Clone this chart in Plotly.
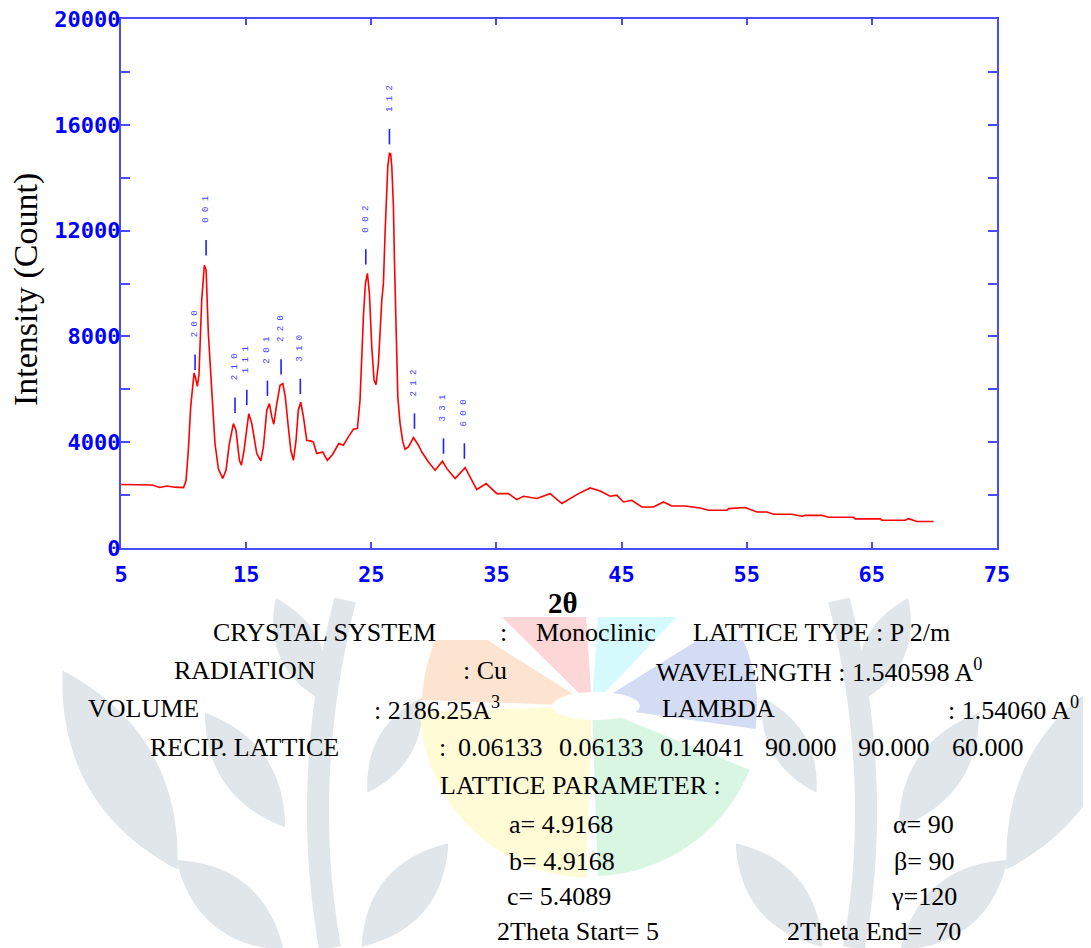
import numpy as np
import plotly.graph_objects as go

# ---------------- data ----------------
two_theta = [5.0, 6.5, 7.5, 8.1, 8.65, 9.3, 10.0, 10.2, 10.38, 10.57, 10.84, 10.95, 11.1, 11.23,
             11.45, 11.66, 11.8, 11.98, 12.25, 12.51, 12.78, 13.13, 13.39, 13.66, 13.98, 14.19,
             14.46, 14.62, 14.83, 15.21, 15.45, 15.85, 16.17, 16.38, 16.65, 16.86, 17.05, 17.21,
             17.45, 17.71, 17.93, 18.13, 18.37, 18.57, 18.78, 18.99, 19.17, 19.36, 19.58, 19.84,
             20.11, 20.37, 20.64, 21.12, 21.49, 21.92, 22.4, 22.77, 23.17, 23.57, 23.89, 24.1,
             24.37, 24.53, 24.69, 24.85, 25.04, 25.22, 25.38, 25.57, 25.84, 25.97, 26.1, 26.24,
             26.32, 26.45, 26.55, 26.64, 26.77, 26.85, 26.95, 27.12, 27.3, 27.52, 27.7, 27.97,
             28.37, 28.77, 29.04, 29.57, 30.1, 30.69, 31.04, 31.7, 32.5, 32.9, 33.43, 34.18,
             35.03, 35.96, 36.63, 37.16, 38.23, 39.29, 40.23, 41.56, 42.49, 43.29, 44.09, 44.62,
             45.15, 45.82, 46.62, 47.55, 48.35, 49.02, 50.08, 51.28, 51.95, 53.42, 53.55, 54.88,
             55.82, 56.62, 57.15, 58.62, 59.42, 59.68, 61.01, 61.54, 63.54, 63.67, 65.67, 65.8,
             67.67, 67.93, 68.6, 69.93]
intensity = [2400, 2400, 2380, 2290, 2345, 2300, 2285, 2560, 3695, 5335, 6620, 6450, 6115, 6530,
             9370, 10690, 10510, 8110, 5965, 3950, 3000, 2625, 2940, 3950, 4705, 4450,
             3315, 3130, 3695, 5080, 4705, 3570, 3290, 3820, 5210, 5460, 4955, 4680,
             5460, 6155, 6220, 5710, 4575, 3695, 3315, 4075, 5210, 5510, 4955, 4075,
             4050, 4010, 3570, 3630, 3315, 3545, 3950, 3885, 4200, 4490, 4515, 5585,
             8740, 10000, 10380, 9620, 7600, 6340, 6180, 6975, 9370, 10000, 11890, 13340,
             14435, 14917, 14900, 14410, 12900, 10880, 8740, 5710, 4705, 4010, 3735, 3820,
             4175, 3885, 3630, 3250, 2940, 3280, 3000, 2625, 3040, 2685, 2210, 2435,
             2055, 2055, 1830, 1955, 1870, 2055, 1680, 2055, 2270, 2155, 1955, 1995,
             1740, 1805, 1550, 1550, 1740, 1590, 1590, 1515, 1425, 1425, 1490, 1530,
             1360, 1360, 1275, 1275, 1200, 1235, 1235, 1160, 1160, 1100, 1100, 1050,
             1050, 1110, 1000, 1000]

hkl_labels = ["200", "001", "210", "111", "201", "220", "310", "002", "112", "212", "331", "600"]
hkl_pos = [10.92, 11.8, 14.11, 15.05, 16.7, 17.79, 19.33, 24.56, 26.45, 28.45, 30.77, 32.44]
hkl_tick_int = [7023, 11354, 5397, 5692, 6040, 6846, 6108, 11006, 15552, 4800, 3854, 3665]

x_ticks = [5, 15, 25, 35, 45, 55, 65, 75]
y_ticks = [0, 4000, 8000, 12000, 16000, 20000]

info_texts = [
    "CRYSTAL SYSTEM", ":", "Monoclinic", "LATTICE TYPE : P 2/m",
    "RADIATION", ": Cu", "WAVELENGTH : 1.540598 A<sup>0</sup>",
    "VOLUME", ": 2186.25A<sup>3</sup>", "LAMBDA", ": 1.54060 A<sup>0</sup>",
    "RECIP. LATTICE", ":", "0.06133", "0.06133", "0.14041", "90.000", "90.000", "60.000",
    "LATTICE PARAMETER :",
    "a= 4.9168", "α= 90",
    "b= 4.9168", "β= 90",
    "c= 5.4089", "γ=120",
    "2Theta Start= 5", "2Theta End=  70",
]
# placement in the reference picture's pixels (left x, centre y) of each text piece
info_px = [
    (211, 632), (498, 632), (534, 632), (691, 632),
    (172, 670), (461, 670), (654, 670),
    (86, 708), (372, 708), (660, 708), (946, 708),
    (148, 747), (437, 747), (456, 747), (557, 747), (658, 747), (763, 747), (856, 747), (950, 747),
    (438, 785),
    (507, 824), (891, 824),
    (507, 861), (892, 861),
    (505, 897), (889, 897),
    (495, 931), (785, 931),
]

# ---------------- layout helpers ----------------
OFF = 8                      # page margin of the browser body
W, H = 1091 - OFF, 948 - OFF
L_M, R_M, T_M, B_M = 121 - OFF, 94, 19 - OFF, 948 - 548
PW, PH = W - L_M - R_M, H - T_M - B_M


def px(xr):
    return (xr - OFF - L_M) / PW


def py(yr):
    return (H - B_M - (yr - OFF)) / PH


def path_from(points):
    return "M " + " L ".join(f"{px(a):.5f},{py(b):.5f}" for a, b in points) + " Z"


AX = "#4a4aff"
TICKFONT = dict(family="DejaVu Sans Mono", size=22, color="#0000ff", weight="bold")

fig = go.Figure()

fig.add_trace(go.Scatter(x=two_theta, y=intensity, mode="lines",
                         line=dict(color="#ff0000", width=1.6), hoverinfo="skip",
                         showlegend=False))
fig.add_trace(go.Scatter(x=hkl_pos, y=hkl_tick_int, mode="markers",
                         marker=dict(symbol="line-ns", size=11,
                                     line=dict(color="#1f1fff", width=1.6)),
                         showlegend=False, hoverinfo="skip"))

annotations = []
for lab, xv, yv in zip(hkl_labels, hkl_pos, hkl_tick_int):
    annotations.append(dict(x=xv, y=yv, xref="x", yref="y", text=" ".join(lab),
                            showarrow=False, textangle=-90, yshift=38,
                            font=dict(family="Liberation Mono", size=9, color="#4545ff")))

for txt, (xr, yr) in zip(info_texts, info_px):
    annotations.append(dict(x=px(xr), y=py(yr), xref="paper", yref="paper", text=txt,
                            showarrow=False, xanchor="left", yanchor="middle",
                            font=dict(family="Liberation Serif", size=26, color="#000000")))

annotations.append(dict(x=px(26), y=py(290), xref="paper", yref="paper",
                        text="Intensity (Count)", showarrow=False, textangle=-90,
                        xanchor="center", yanchor="middle",
                        font=dict(family="Liberation Serif", size=34, color="#000000")))
annotations.append(dict(x=px(563), y=py(603), xref="paper", yref="paper",
                        text="<b>2θ</b>", showarrow=False, xanchor="center", yanchor="middle",
                        font=dict(family="Liberation Serif", size=29, color="#000000")))

# ---------------- watermark ----------------
shapes = []
LEAF = "#e0e6e9"


def leaf(cx, cy, length, width, ang):
    a = np.deg2rad(ang)
    d = np.array([np.sin(a), -np.cos(a)])
    n = np.array([np.cos(a), np.sin(a)])
    u = np.linspace(-1, 1, 25)
    hw = width / 2 * (1 - u ** 2)
    up = [(cx + d[0] * length / 2 * s + n[0] * h, cy + d[1] * length / 2 * s + n[1] * h) for s, h in zip(u, hw)]
    dn = [(cx + d[0] * length / 2 * s - n[0] * h, cy + d[1] * length / 2 * s - n[1] * h) for s, h in zip(u[::-1], hw[::-1])]
    return path_from(up + dn)


leaves_left = [
    (300, 650, 115, 42, -25),
    (120, 770, 230, 72, -30),
    (245, 770, 140, 48, -35),
    (230, 905, 140, 52, -50),
    (405, 895, 135, 50, 40),
    (395, 745, 110, 36, 30),
]
for cx, cy, ln, wd, an in leaves_left:
    shapes.append(dict(type="path", path=leaf(cx, cy, ln, wd, an), xref="paper", yref="paper",
                       fillcolor=LEAF, line=dict(width=0), layer="below"))
    shapes.append(dict(type="path", path=leaf(1184 - cx, cy, ln, wd, -an), xref="paper", yref="paper",
                       fillcolor=LEAF, line=dict(width=0), layer="below"))

# stems
for sgn in (1, -1):
    ts = np.linspace(0, 1, 30)
    x0, x1, x2 = 330, 300, 345
    y0, y1, y2 = 948, 780, 600
    xs = (1 - ts) ** 2 * x0 + 2 * (1 - ts) * ts * x1 + ts ** 2 * x2
    ys = (1 - ts) ** 2 * y0 + 2 * (1 - ts) * ts * y1 + ts ** 2 * y2
    if sgn == -1:
        xs = 1184 - xs
    pth = "M " + " L ".join(f"{px(a):.5f},{py(b):.5f}" for a, b in zip(xs, ys))
    shapes.append(dict(type="path", path=pth, xref="paper", yref="paper",
                       line=dict(color=LEAF, width=22), layer="below"))

# petals
CX, CY = 592, 706
petals = [
    (60, 88, 170, 617, "#d6fbfe"),
    (92, 122, 170, 617, "#fdd7d7"),
    (128, 178, 170, 640, "#fde4d0"),
    (182, 268, 172, 600, "#fffbd6"),
    (272, 338, 170, 600, "#d9f6e3"),
    (-8, 50, 165, 640, "#d4dcf4"),
]
for a0, a1, r, ytop, col in petals:
    angs = np.deg2rad(np.linspace(a0, a1, 30))
    pts = [(CX, CY)] + [(CX + r * np.cos(t), max(ytop, CY - r * np.sin(t))) for t in angs]
    shapes.append(dict(type="path", path=path_from(pts), xref="paper", yref="paper",
                       fillcolor=col, line=dict(width=0), layer="below"))
shapes.append(dict(type="circle", xref="paper", yref="paper", x0=px(552), x1=px(640),
                   y0=py(720), y1=py(692), fillcolor="#ffffff", line=dict(width=0), layer="below"))

fig.update_layout(
    width=W, height=H,
    margin=dict(l=L_M, r=R_M, t=T_M, b=B_M, autoexpand=False),
    paper_bgcolor="#ffffff", plot_bgcolor="rgba(255,255,255,0)",
    annotations=annotations, shapes=shapes, showlegend=False,
    xaxis=dict(range=[5, 75], tickvals=x_ticks, ticktext=[str(v) for v in x_ticks],
               automargin=False, ticklabeloverflow="allow",
               showgrid=False, zeroline=False, showline=True, linecolor=AX, linewidth=2,
               mirror="ticks", ticks="inside", ticklen=6, tickwidth=1.5, tickcolor=AX,
               tickfont=TICKFONT, ticklabelstandoff=6),
    yaxis=dict(range=[0, 20000], tickvals=y_ticks, ticktext=[str(v) for v in y_ticks],
               automargin=False, ticklabeloverflow="allow",
               showgrid=False, zeroline=False, showline=True, linecolor=AX, linewidth=2,
               mirror="ticks", ticks="inside", ticklen=9, tickwidth=1.5, tickcolor=AX,
               tickfont=TICKFONT, ticklabelstandoff=-6,
               minor=dict(dtick=2000, tick0=0, ticks="inside", ticklen=9, tickwidth=1.5,
                          tickcolor=AX, showgrid=False)),
)

fig.write_html("out.html")
